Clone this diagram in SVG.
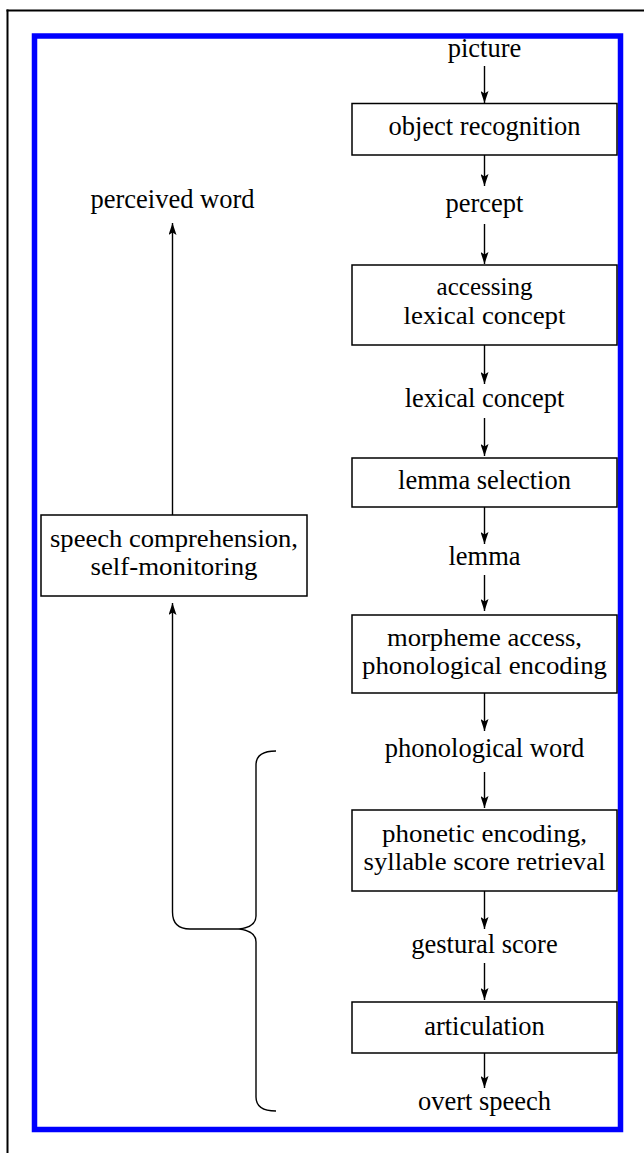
<svg xmlns="http://www.w3.org/2000/svg" width="644" height="1153" viewBox="0 0 644 1153">
<style>
text{font-family:"Liberation Serif","Times New Roman",serif;font-size:26.5px;fill:#000;text-anchor:middle}
text.two{font-size:25px}
.box{fill:#fff;stroke:#000;stroke-width:1.5}
.con{fill:none;stroke:#000;stroke-width:1.4}
</style>
<defs>
<marker id="ah" viewBox="0 0 12 8" refX="12" refY="4" markerWidth="12" markerHeight="8" markerUnits="userSpaceOnUse" orient="auto">
<path d="M0,0 L12,4 L0,8 L2.5,4 z" fill="#000"/>
</marker>
</defs>
<rect width="644" height="1153" fill="#fff"/>
<g id="frame">
<line x1="7.5" y1="9.5" x2="7.5" y2="1153" stroke="#000" stroke-width="2"/>
<line x1="6.5" y1="10.5" x2="644" y2="10.5" stroke="#000" stroke-width="2"/>
<rect x="34.5" y="36" width="586" height="1093.5" fill="none" stroke="#0000ff" stroke-width="5.5"/>
</g>
<g id="connectors">
<line class="con" x1="484.5" y1="66" x2="484.5" y2="103" marker-end="url(#ah)"/>
<line class="con" x1="484.5" y1="155" x2="484.5" y2="186" marker-end="url(#ah)"/>
<line class="con" x1="484.5" y1="224" x2="484.5" y2="264" marker-end="url(#ah)"/>
<line class="con" x1="484.5" y1="345" x2="484.5" y2="384" marker-end="url(#ah)"/>
<line class="con" x1="484.5" y1="418" x2="484.5" y2="456" marker-end="url(#ah)"/>
<line class="con" x1="484.5" y1="507" x2="484.5" y2="544" marker-end="url(#ah)"/>
<line class="con" x1="484.5" y1="575" x2="484.5" y2="611" marker-end="url(#ah)"/>
<line class="con" x1="484.5" y1="693" x2="484.5" y2="731" marker-end="url(#ah)"/>
<line class="con" x1="484.5" y1="772" x2="484.5" y2="808" marker-end="url(#ah)"/>
<line class="con" x1="484.5" y1="891" x2="484.5" y2="929" marker-end="url(#ah)"/>
<line class="con" x1="484.5" y1="963" x2="484.5" y2="1000" marker-end="url(#ah)"/>
<line class="con" x1="484.5" y1="1053" x2="484.5" y2="1088" marker-end="url(#ah)"/>
<line class="con" x1="172.5" y1="515" x2="172.5" y2="223" marker-end="url(#ah)"/>
<path class="con" d="M239,929 L190,929 Q172.5,929 172.5,912 L172.5,603" marker-end="url(#ah)"/>
<path class="con" d="M276,751 Q256,751 256,765 L256,916 Q256,927 239,929 Q256,931 256,942 L256,1097 Q256,1111 276,1111"/>
</g>
<g id="n-picture"><text x="484.5" y="57">picture</text></g>
<g id="n-object"><rect class="box" x="352" y="103.5" width="265" height="51.5"/><text x="484.5" y="135">object recognition</text></g>
<g id="n-percept"><text x="484.5" y="212">percept</text></g>
<g id="n-access"><rect class="box" x="352" y="265" width="265" height="80"/><text class="two" x="484.5" y="295">accessing</text><text class="two" x="484.5" y="324" textLength="162" lengthAdjust="spacingAndGlyphs">lexical concept</text></g>
<g id="n-lexconcept"><text x="484.5" y="407">lexical concept</text></g>
<g id="n-lemmasel"><rect class="box" x="352" y="458" width="265" height="49"/><text x="484.5" y="489">lemma selection</text></g>
<g id="n-lemma"><text x="484.5" y="565">lemma</text></g>
<g id="n-morph"><rect class="box" x="352" y="615" width="265" height="78"/><text class="two" x="484.5" y="646" textLength="195" lengthAdjust="spacingAndGlyphs">morpheme access,</text><text class="two" x="484.5" y="674" textLength="245" lengthAdjust="spacingAndGlyphs">phonological encoding</text></g>
<g id="n-phonword"><text x="484.5" y="757">phonological word</text></g>
<g id="n-phonetic"><rect class="box" x="352" y="810" width="265" height="81"/><text class="two" x="484.5" y="842" textLength="205" lengthAdjust="spacingAndGlyphs">phonetic encoding,</text><text class="two" x="484.5" y="870" textLength="242" lengthAdjust="spacingAndGlyphs">syllable score retrieval</text></g>
<g id="n-gestural"><text x="484.5" y="953">gestural score</text></g>
<g id="n-artic"><rect class="box" x="352" y="1002" width="265" height="51"/><text x="484.5" y="1035">articulation</text></g>
<g id="n-overt"><text x="484.5" y="1110">overt speech</text></g>
<g id="n-perceived"><text x="172.5" y="208">perceived word</text></g>
<g id="n-comprehension"><rect class="box" x="41" y="515" width="266" height="81"/><text class="two" x="174" y="547" textLength="248" lengthAdjust="spacingAndGlyphs">speech comprehension,</text><text class="two" x="174" y="575" textLength="167" lengthAdjust="spacingAndGlyphs">self-monitoring</text></g>
</svg>
